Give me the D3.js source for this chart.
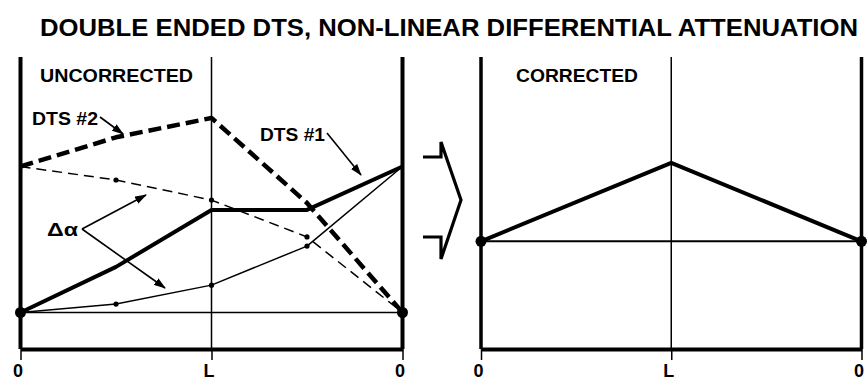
<!DOCTYPE html>
<html>
<head>
<meta charset="utf-8">
<script src="https://cdn.jsdelivr.net/npm/d3@7"></script>
<style>
  body { margin: 0; background: #fff; }
  svg { display: block; font-family: "Liberation Sans", Arial, sans-serif; font-weight: bold; }
</style>
</head>
<body>
<svg width="867" height="381"></svg>
<script>
// Positions along the loop: 0 -> L -> 0 (in units of L)
const positions = [0, 0.5, 1, 1.5, 2];
const tickValues = [0, 1, 2];
const tickLabels = ["0", "L", "0"];

// Uncorrected traces (arbitrary temperature units)
const dts2Raw = [4.0, 4.8, 5.33, 3.0, 0.0];      // thick dashed
const dts2Alpha = [4.0, 3.63, 3.08, 2.07, 0.0];  // thin dashed
const dts1Raw = [0.0, 1.25, 2.81, 2.81, 4.0];    // thick solid
const dts1Alpha = [0.0, 0.23, 0.75, 1.82, 4.0];  // thin solid
const uncorrectedBase = 0;

// Corrected trace
const correctedPos = [0, 1, 2];
const corrected = [1.95, 4.1, 1.95];
const correctedBase = 1.95;

const svg = d3.select("svg");

// Shared vertical scale, one horizontal scale per panel
const yScale = d3.scaleLinear().domain([-1, 7]).range([349, 57]);
const xLeft = d3.scaleLinear().domain([0, 2]).range([20.5, 402.5]);
const xRight = d3.scaleLinear().domain([0, 2]).range([481, 861.5]);

// Arrowhead marker
svg.append("defs").append("marker")
   .attr("id", "head")
   .attr("viewBox", "0 0 12 8")
   .attr("refX", 11).attr("refY", 4)
   .attr("markerWidth", 12).attr("markerHeight", 8)
   .attr("markerUnits", "userSpaceOnUse")
   .attr("orient", "auto")
   .append("path").attr("d", "M0,0 L12,4 L0,8 Z").attr("fill", "#000");

// Title
svg.append("text")
   .attr("x", 449).attr("y", 36)
   .attr("text-anchor", "middle")
   .attr("font-size", 24.5)
   .attr("textLength", 818).attr("lengthAdjust", "spacingAndGlyphs")
   .text("DOUBLE ENDED DTS, NON-LINEAR DIFFERENTIAL ATTENUATION");

// Draws the frame of one panel: verticals, bottom axis, baseline
function drawFrame(x, base, axisWidth, baseWidth) {
    const g = svg.append("g");

    // Bottom axis with 0 / L / 0 ticks
    const axis = d3.axisBottom(x)
        .tickValues(tickValues)
        .tickFormat((d, i) => tickLabels[i])
        .tickSizeInner(11).tickSizeOuter(0).tickPadding(4);
    const ax = g.append("g")
        .attr("transform", `translate(0,${yScale(-1)})`)
        .call(axis);
    ax.select(".domain").attr("stroke-width", 4).attr("stroke", "#000");
    ax.selectAll(".tick line").attr("stroke-width", 1.5).attr("stroke", "#000");
    ax.selectAll(".tick text")
      .attr("font-size", 18).attr("font-family", "Liberation Sans, Arial, sans-serif")
      .attr("font-weight", "bold").attr("fill", "#000").attr("dx", -3);

    // Vertical lines: thick at the ends, thin at L
    g.selectAll("line.vert")
     .data(tickValues)
     .enter().append("line")
     .attr("class", "vert")
     .attr("x1", d => x(d)).attr("x2", d => x(d))
     .attr("y1", yScale(7)).attr("y2", yScale(-1))
     .attr("stroke", "#000")
     .attr("stroke-width", d => d === 1 ? 1.5 : axisWidth);

    // Thin baseline
    g.append("line")
     .attr("x1", x(0)).attr("x2", x(2))
     .attr("y1", yScale(base)).attr("y2", yScale(base))
     .attr("stroke", "#000").attr("stroke-width", baseWidth);

    // Large end dots
    g.selectAll("circle.end")
     .data([0, 2])
     .enter().append("circle")
     .attr("class", "end")
     .attr("cx", d => x(d)).attr("cy", yScale(base))
     .attr("r", 5.5).attr("fill", "#000");
}

drawFrame(xLeft, uncorrectedBase, 4, 1.5);
drawFrame(xRight, correctedBase, 3.5, 2);

// Line generator helper
function trace(x, xs, ys, width, dash, dots) {
    const pts = xs.map((d, i) => [d, ys[i]]);
    const line = d3.line().x(d => x(d[0])).y(d => yScale(d[1]));
    svg.append("path")
       .attr("d", line(pts))
       .attr("fill", "none").attr("stroke", "#000")
       .attr("stroke-width", width)
       .attr("stroke-linejoin", "round")
       .attr("stroke-dasharray", dash);
    if (dots) {
        svg.selectAll(null)
           .data(pts.slice(1, -1))
           .enter().append("circle")
           .attr("cx", d => x(d[0])).attr("cy", d => yScale(d[1]))
           .attr("r", 2.6).attr("fill", "#000");
    }
}

trace(xLeft, positions, dts2Alpha, 1.5, "10,6", true);
trace(xLeft, positions, dts1Alpha, 1.5, null, true);
trace(xLeft, positions, dts1Raw, 4, null, false);
trace(xLeft, positions, dts2Raw, 4.5, "13,6", false);
trace(xRight, correctedPos, corrected, 4, null, false);

// Panel labels and annotations
const labels = [
    { t: "UNCORRECTED", x: 40, y: 82, w: 153 },
    { t: "CORRECTED", x: 516, y: 82, w: 122 },
    { t: "DTS #2", x: 32, y: 125, w: 66 },
    { t: "DTS #1", x: 260, y: 141, w: 65 },
    { t: "Δα", x: 47, y: 236, w: 31 }
];
svg.selectAll("text.lab")
   .data(labels)
   .enter().append("text")
   .attr("class", "lab")
   .attr("x", d => d.x).attr("y", d => d.y)
   .attr("font-size", 19)
   .attr("textLength", d => d.w).attr("lengthAdjust", "spacingAndGlyphs")
   .text(d => d.t);

// Annotation arrows
const arrows = [
    [100, 117, 123, 134],
    [327, 133, 361, 175],
    [82, 229, 146, 195],
    [82, 229, 165, 288]
];
svg.selectAll("line.arrow")
   .data(arrows)
   .enter().append("line")
   .attr("class", "arrow")
   .attr("x1", d => d[0]).attr("y1", d => d[1])
   .attr("x2", d => d[2]).attr("y2", d => d[3])
   .attr("stroke", "#000").attr("stroke-width", 1.6)
   .attr("marker-end", "url(#head)");

// Chevron between the panels
svg.append("path")
   .attr("d", "M423,157 L441,157 L441,142 L461,200 L441,259 L441,237 L423,237")
   .attr("fill", "none").attr("stroke", "#000")
   .attr("stroke-width", 3.2).attr("stroke-linejoin", "miter");
</script>
</body>
</html>
